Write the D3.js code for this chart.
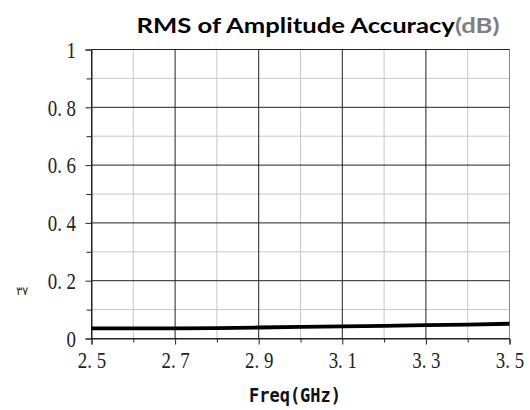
<!DOCTYPE html>
<html><head><meta charset="utf-8">
<script src="https://cdn.jsdelivr.net/npm/d3@7"></script>
<style>body{margin:0;background:#fff}svg{display:block}</style>
</head><body>
<svg id="c" width="530" height="410"></svg>
<script>
const freq = [2.5, 2.6, 2.7, 2.8, 2.9, 3.0, 3.1, 3.2, 3.3, 3.4, 3.5];
const rms  = [0.035, 0.035, 0.035, 0.036, 0.038, 0.040, 0.042, 0.044, 0.046, 0.048, 0.051];
const xTicks = [2.5, 2.7, 2.9, 3.1, 3.3, 3.5];
const xMinor = [2.6, 2.8, 3.0, 3.2, 3.4];
const yTicks = [0, 0.2, 0.4, 0.6, 0.8, 1];
const yMinor = [0.1, 0.3, 0.5, 0.7, 0.9];
const titleMain = "RMS of Amplitude Accuracy";
const titleUnit = "(dB)";
const xTitle = "Freq(GHz)";
const yTitle = "۳۷";

const L = 91.5, R = 509.5, T = 49.5, B = 338.5;
const svg = d3.select("#c");
const x = d3.scaleLinear().domain([2.5, 3.5]).range([L, R]);
const y = d3.scaleLinear().domain([0, 1]).range([B, T]);
const fmt = v => (v === 0 || v === 1) ? String(v) : d3.format(".1f")(v).replace(".", ". ");
const SX = 0.82;

// minor grid
const g = svg.append("g");
g.selectAll(".hm").data(yMinor).join("line")
  .attr("x1", L).attr("x2", R).attr("y1", d => y(d)).attr("y2", d => y(d))
  .attr("stroke", "#c8c8c8").attr("stroke-width", 1);
g.selectAll(".vm").data(xMinor).join("line")
  .attr("y1", T).attr("y2", B).attr("x1", d => x(d)).attr("x2", d => x(d))
  .attr("stroke", "#c8c8c8").attr("stroke-width", 1);
// right border
g.append("line").attr("x1", R).attr("x2", R).attr("y1", T).attr("y2", B)
  .attr("stroke", "#8a8a8a");
// major grid
g.selectAll(".hM").data(yTicks).join("line")
  .attr("x1", L).attr("x2", R).attr("y1", d => y(d)).attr("y2", d => y(d))
  .attr("stroke", "#222").attr("stroke-width", 1);
g.selectAll(".vM").data(xTicks.slice(0, -1)).join("line")
  .attr("y1", T).attr("y2", B).attr("x1", d => x(d)).attr("x2", d => x(d))
  .attr("stroke", "#222").attr("stroke-width", 1);

// axes
const yAxis = d3.axisLeft(y).tickValues(yTicks).tickSize(6).tickFormat(fmt);
const yAxisMinor = d3.axisLeft(y).tickValues(yMinor).tickSize(5).tickFormat("");
const xAxis = d3.axisBottom(x).tickValues(xTicks).tickSize(6).tickFormat(fmt);
const xAxisMinor = d3.axisBottom(x).tickValues(xMinor).tickSize(4).tickFormat("");

const ya = svg.append("g").attr("transform", `translate(${L},0)`).call(yAxis);
svg.append("g").attr("transform", `translate(${L},0)`).call(yAxisMinor).select(".domain").remove();
const xa = svg.append("g").attr("transform", `translate(0,${B})`).call(xAxis);
svg.append("g").attr("transform", `translate(0,${B})`).call(xAxisMinor).select(".domain").remove();
svg.selectAll(".domain").attr("stroke", "#222");
svg.selectAll(".tick line").attr("stroke", "#222");

ya.selectAll("text").attr("x", -15.5 / SX).attr("dy", "0.34em")
  .attr("transform", `scale(${SX},1)`)
  .attr("font-family", "Liberation Serif").attr("font-size", 23).attr("fill", "#222")
  .attr("style", "white-space:pre");
xa.selectAll("text").attr("y", 13.5).attr("dy", "0.71em")
  .attr("transform", `scale(${SX},1)`)
  .attr("font-family", "Liberation Serif").attr("font-size", 23).attr("fill", "#222")
  .attr("style", "white-space:pre");

// line
const line = d3.line().x((d, i) => x(freq[i])).y(d => y(d));
svg.append("path").datum(rms).attr("d", line)
  .attr("fill", "none").attr("stroke", "#000").attr("stroke-width", 3.8);

// title
const t = svg.append("text").attr("x", 318).attr("y", 33).attr("text-anchor", "middle")
  .attr("font-family", "Lato").attr("font-weight", "bold").attr("font-size", 21)
  .attr("textLength", 363).attr("lengthAdjust", "spacingAndGlyphs");
t.append("tspan").attr("fill", "#000").text(titleMain);
t.append("tspan").attr("fill", "#7f7f7f").text(titleUnit);

// x title
svg.append("text").attr("transform", "translate(295,402) scale(0.85,1)")
  .attr("text-anchor", "middle").attr("font-family", "DejaVu Sans Mono")
  .attr("font-weight", "bold").attr("font-size", 20).attr("fill", "#111").text(xTitle);

// y title
svg.append("text").attr("x", 22).attr("y", 295).attr("text-anchor", "middle")
  .attr("font-family", "Noto Sans").attr("font-size", 12).attr("fill", "#333").text(yTitle);
</script>
</body></html>
